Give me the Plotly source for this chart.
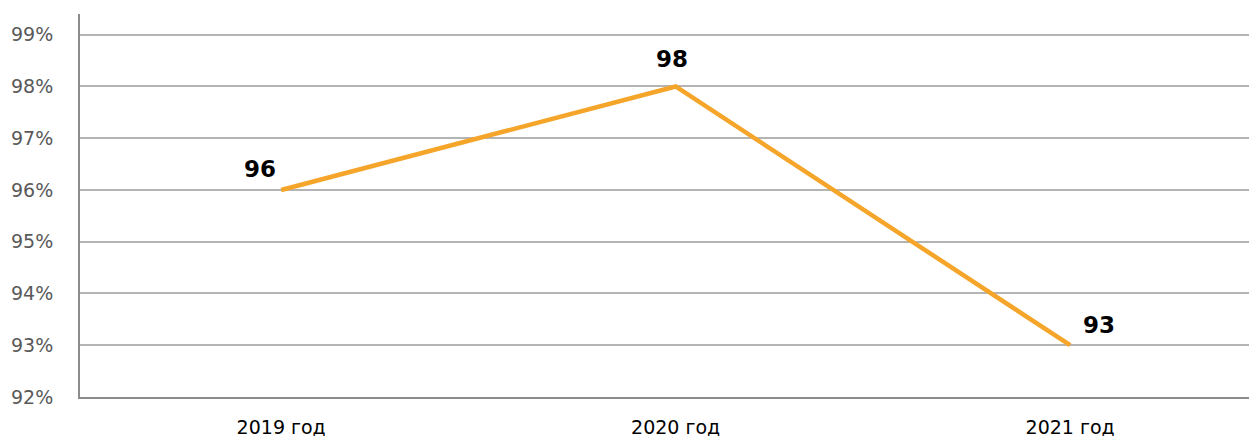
import plotly.graph_objects as go

categories = ["2019 год", "2020 год", "2021 год"]
values = [96, 98, 93]
label_text = ["96", "98", "93"]
label_dx = [-21, -4, 29]
label_dy = [21, 27, 20]
y_ticks = [92, 93, 94, 95, 96, 97, 98, 99]
y_tick_text = [f"{v}%" for v in y_ticks]

fig = go.Figure()
fig.add_trace(go.Scatter(
    x=list(range(len(categories))), y=values, mode="lines",
    line=dict(color="#F5A52A", width=4.5), hoverinfo="skip", showlegend=False,
))
for i, (v, t) in enumerate(zip(values, label_text)):
    fig.add_annotation(x=i, y=v, text=f"<b>{t}</b>", showarrow=False,
                       xshift=label_dx[i], yshift=label_dy[i],
                       font=dict(family="DejaVu Sans", size=23, color="#000000"))

fig.update_layout(
    width=1257, height=436,
    margin=dict(l=72, r=0, t=6, b=47),
    plot_bgcolor="white", paper_bgcolor="white",
    xaxis=dict(range=[-0.51, 2.494], tickvals=list(range(len(categories))), ticktext=categories,
               showgrid=False, zeroline=False, showline=True, linecolor="#8C8C8C", linewidth=2,
               tickfont=dict(family="DejaVu Sans", size=19, color="#000000"),
               ticks="outside", ticklen=12, tickcolor="rgba(0,0,0,0)"),
    yaxis=dict(range=[92, 99.4], tickvals=y_ticks, ticktext=y_tick_text,
               showgrid=True, gridcolor="#B4B4B4", gridwidth=1.5, zeroline=False,
               showline=True, linecolor="#8C8C8C", linewidth=2,
               tickfont=dict(family="DejaVu Sans", size=19, color="#595959"),
               ticks="outside", ticklen=21, tickcolor="rgba(0,0,0,0)"),
)
fig.write_html("out.html")
